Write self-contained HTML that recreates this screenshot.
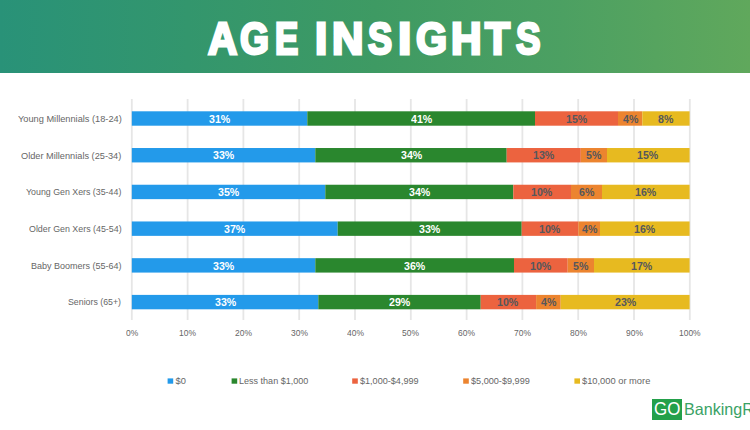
<!DOCTYPE html>
<html><head><meta charset="utf-8">
<style>
html,body{margin:0;padding:0;}
body{width:750px;height:430px;position:relative;overflow:hidden;background:#fff;font-family:"Liberation Sans",sans-serif;}
.hdr{position:absolute;left:0;top:0;width:750px;height:73px;background:linear-gradient(90deg,#299278 0%,#33966d 25%,#3e9a63 50%,#4ca062 75%,#60a85c 100%);}
.tl{position:absolute;top:-1px;line-height:80px;color:#fff;font-weight:bold;font-size:45.2px;-webkit-text-stroke:2.8px #fff;transform-origin:0 0;}
.gl{position:absolute;width:2px;background:#ebebeb;top:99px;height:221px;}
.seg{position:absolute;}
.t{position:absolute;white-space:nowrap;transform-origin:0 0;}
.g{color:#666666;}
.g2{color:#6a6a6a;}
.sq{position:absolute;width:5.6px;height:5.4px;}
</style></head><body>
<div class="hdr"></div>

<div class="tl" style="left:208.49px;transform:scaleX(0.8941)">A</div><div class="tl" style="left:240.40px;transform:scaleX(0.8235)">G</div><div class="tl" style="left:274.86px;transform:scaleX(0.7714)">E</div><div class="tl" style="left:315.24px;transform:scaleX(0.9778)">I</div><div class="tl" style="left:332.07px;transform:scaleX(0.9655)">N</div><div class="tl" style="left:368.40px;transform:scaleX(0.8000)">S</div><div class="tl" style="left:398.27px;transform:scaleX(1.0667)">I</div><div class="tl" style="left:416.00px;transform:scaleX(0.8824)">G</div><div class="tl" style="left:450.52px;transform:scaleX(0.9379)">H</div><div class="tl" style="left:485.01px;transform:scaleX(0.9067)">T</div><div class="tl" style="left:515.90px;transform:scaleX(0.8133)">S</div>
<svg style="position:absolute;left:0;top:0" width="750" height="430" viewBox="0 0 750 430"><rect x="130.90" y="99" width="1.8" height="221" fill="#e6e6e6"/><rect x="186.70" y="99" width="1.8" height="221" fill="#e6e6e6"/><rect x="242.50" y="99" width="1.8" height="221" fill="#e6e6e6"/><rect x="298.30" y="99" width="1.8" height="221" fill="#e6e6e6"/><rect x="354.10" y="99" width="1.8" height="221" fill="#e6e6e6"/><rect x="409.90" y="99" width="1.8" height="221" fill="#e6e6e6"/><rect x="465.70" y="99" width="1.8" height="221" fill="#e6e6e6"/><rect x="521.50" y="99" width="1.8" height="221" fill="#e6e6e6"/><rect x="577.30" y="99" width="1.8" height="221" fill="#e6e6e6"/><rect x="633.10" y="99" width="1.8" height="221" fill="#e6e6e6"/><rect x="688.90" y="99" width="1.8" height="221" fill="#e6e6e6"/><rect x="131.80" y="111.30" width="175.50" height="14.4" fill="#239aea"/><rect x="307.30" y="111.30" width="227.70" height="14.4" fill="#2a872e"/><rect x="535.00" y="111.30" width="83.00" height="14.4" fill="#ec633f"/><rect x="618.00" y="111.30" width="24.30" height="14.4" fill="#ec842f"/><rect x="642.30" y="111.30" width="47.30" height="14.4" fill="#e7ba20"/><rect x="131.80" y="148.02" width="183.50" height="14.4" fill="#239aea"/><rect x="315.30" y="148.02" width="191.40" height="14.4" fill="#2a872e"/><rect x="506.70" y="148.02" width="74.10" height="14.4" fill="#ec633f"/><rect x="580.80" y="148.02" width="26.20" height="14.4" fill="#ec842f"/><rect x="607.00" y="148.02" width="82.60" height="14.4" fill="#e7ba20"/><rect x="131.80" y="184.74" width="193.50" height="14.4" fill="#239aea"/><rect x="325.30" y="184.74" width="188.00" height="14.4" fill="#2a872e"/><rect x="513.30" y="184.74" width="57.70" height="14.4" fill="#ec633f"/><rect x="571.00" y="184.74" width="31.00" height="14.4" fill="#ec842f"/><rect x="602.00" y="184.74" width="87.60" height="14.4" fill="#e7ba20"/><rect x="131.80" y="221.46" width="205.90" height="14.4" fill="#239aea"/><rect x="337.70" y="221.46" width="184.00" height="14.4" fill="#2a872e"/><rect x="521.70" y="221.46" width="56.60" height="14.4" fill="#ec633f"/><rect x="578.30" y="221.46" width="21.70" height="14.4" fill="#ec842f"/><rect x="600.00" y="221.46" width="89.60" height="14.4" fill="#e7ba20"/><rect x="131.80" y="258.18" width="183.50" height="14.4" fill="#239aea"/><rect x="315.30" y="258.18" width="198.70" height="14.4" fill="#2a872e"/><rect x="514.00" y="258.18" width="53.70" height="14.4" fill="#ec633f"/><rect x="567.70" y="258.18" width="26.30" height="14.4" fill="#ec842f"/><rect x="594.00" y="258.18" width="95.60" height="14.4" fill="#e7ba20"/><rect x="131.80" y="294.90" width="186.50" height="14.4" fill="#239aea"/><rect x="318.30" y="294.90" width="162.40" height="14.4" fill="#2a872e"/><rect x="480.70" y="294.90" width="55.40" height="14.4" fill="#ec633f"/><rect x="536.10" y="294.90" width="24.60" height="14.4" fill="#ec842f"/><rect x="560.70" y="294.90" width="128.90" height="14.4" fill="#e7ba20"/><rect x="167.60" y="378.4" width="5.6" height="5.3" fill="#239aea"/><rect x="231.60" y="378.4" width="5.6" height="5.3" fill="#2a872e"/><rect x="352.20" y="378.4" width="5.6" height="5.3" fill="#ec633f"/><rect x="463.20" y="378.4" width="5.6" height="5.3" fill="#ec842f"/><rect x="574.40" y="378.4" width="5.6" height="5.3" fill="#e7ba20"/></svg>
<div class="t " style="left:209.10px;top:111.72px;transform:scaleX(0.9500);font-size:11.2px;font-weight:bold;line-height:15px;color:#ffffff">31%</div>
<div class="t " style="left:410.70px;top:111.72px;transform:scaleX(0.9500);font-size:11.2px;font-weight:bold;line-height:15px;color:#ffffff">41%</div>
<div class="t " style="left:565.57px;top:111.72px;transform:scaleX(0.9500);font-size:11.2px;font-weight:bold;line-height:15px;color:#55575c">15%</div>
<div class="t " style="left:622.55px;top:111.72px;transform:scaleX(0.9500);font-size:11.2px;font-weight:bold;line-height:15px;color:#55575c">4%</div>
<div class="t " style="left:658.35px;top:111.72px;transform:scaleX(0.9500);font-size:11.2px;font-weight:bold;line-height:15px;color:#55575c">8%</div>
<div class="t g" style="left:18.00px;top:112.88px;transform:scaleX(0.9923);font-size:9.3px;line-height:12px;">Young Millennials (18-24)</div>
<div class="t " style="left:213.10px;top:148.44px;transform:scaleX(0.9500);font-size:11.2px;font-weight:bold;line-height:15px;color:#ffffff">33%</div>
<div class="t " style="left:400.55px;top:148.44px;transform:scaleX(0.9500);font-size:11.2px;font-weight:bold;line-height:15px;color:#ffffff">34%</div>
<div class="t " style="left:532.82px;top:148.44px;transform:scaleX(0.9500);font-size:11.2px;font-weight:bold;line-height:15px;color:#55575c">13%</div>
<div class="t " style="left:586.30px;top:148.44px;transform:scaleX(0.9500);font-size:11.2px;font-weight:bold;line-height:15px;color:#55575c">5%</div>
<div class="t " style="left:637.37px;top:148.44px;transform:scaleX(0.9500);font-size:11.2px;font-weight:bold;line-height:15px;color:#55575c">15%</div>
<div class="t g" style="left:21.20px;top:149.60px;transform:scaleX(0.9901);font-size:9.3px;line-height:12px;">Older Millennials (25-34)</div>
<div class="t " style="left:218.10px;top:185.16px;transform:scaleX(0.9500);font-size:11.2px;font-weight:bold;line-height:15px;color:#ffffff">35%</div>
<div class="t " style="left:408.85px;top:185.16px;transform:scaleX(0.9500);font-size:11.2px;font-weight:bold;line-height:15px;color:#ffffff">34%</div>
<div class="t " style="left:531.22px;top:185.16px;transform:scaleX(0.9500);font-size:11.2px;font-weight:bold;line-height:15px;color:#55575c">10%</div>
<div class="t " style="left:578.90px;top:185.16px;transform:scaleX(0.9500);font-size:11.2px;font-weight:bold;line-height:15px;color:#55575c">6%</div>
<div class="t " style="left:634.87px;top:185.16px;transform:scaleX(0.9500);font-size:11.2px;font-weight:bold;line-height:15px;color:#55575c">16%</div>
<div class="t g" style="left:26.30px;top:186.32px;transform:scaleX(0.9490);font-size:9.3px;line-height:12px;">Young Gen Xers (35-44)</div>
<div class="t " style="left:224.30px;top:221.88px;transform:scaleX(0.9500);font-size:11.2px;font-weight:bold;line-height:15px;color:#ffffff">37%</div>
<div class="t " style="left:419.25px;top:221.88px;transform:scaleX(0.9500);font-size:11.2px;font-weight:bold;line-height:15px;color:#ffffff">33%</div>
<div class="t " style="left:539.07px;top:221.88px;transform:scaleX(0.9500);font-size:11.2px;font-weight:bold;line-height:15px;color:#55575c">10%</div>
<div class="t " style="left:581.55px;top:221.88px;transform:scaleX(0.9500);font-size:11.2px;font-weight:bold;line-height:15px;color:#55575c">4%</div>
<div class="t " style="left:633.87px;top:221.88px;transform:scaleX(0.9500);font-size:11.2px;font-weight:bold;line-height:15px;color:#55575c">16%</div>
<div class="t g" style="left:28.70px;top:223.04px;transform:scaleX(0.9536);font-size:9.3px;line-height:12px;">Older Gen Xers (45-54)</div>
<div class="t " style="left:213.10px;top:258.60px;transform:scaleX(0.9500);font-size:11.2px;font-weight:bold;line-height:15px;color:#ffffff">33%</div>
<div class="t " style="left:404.20px;top:258.60px;transform:scaleX(0.9500);font-size:11.2px;font-weight:bold;line-height:15px;color:#ffffff">36%</div>
<div class="t " style="left:529.92px;top:258.60px;transform:scaleX(0.9500);font-size:11.2px;font-weight:bold;line-height:15px;color:#55575c">10%</div>
<div class="t " style="left:573.25px;top:258.60px;transform:scaleX(0.9500);font-size:11.2px;font-weight:bold;line-height:15px;color:#55575c">5%</div>
<div class="t " style="left:630.87px;top:258.60px;transform:scaleX(0.9500);font-size:11.2px;font-weight:bold;line-height:15px;color:#55575c">17%</div>
<div class="t g" style="left:31.13px;top:259.76px;transform:scaleX(0.9685);font-size:9.3px;line-height:12px;">Baby Boomers (55-64)</div>
<div class="t " style="left:214.60px;top:295.32px;transform:scaleX(0.9500);font-size:11.2px;font-weight:bold;line-height:15px;color:#ffffff">33%</div>
<div class="t " style="left:389.05px;top:295.32px;transform:scaleX(0.9500);font-size:11.2px;font-weight:bold;line-height:15px;color:#ffffff">29%</div>
<div class="t " style="left:497.47px;top:295.32px;transform:scaleX(0.9500);font-size:11.2px;font-weight:bold;line-height:15px;color:#55575c">10%</div>
<div class="t " style="left:540.80px;top:295.32px;transform:scaleX(0.9500);font-size:11.2px;font-weight:bold;line-height:15px;color:#55575c">4%</div>
<div class="t " style="left:614.70px;top:295.32px;transform:scaleX(0.9500);font-size:11.2px;font-weight:bold;line-height:15px;color:#55575c">23%</div>
<div class="t g" style="left:68.25px;top:296.48px;transform:scaleX(0.9455);font-size:9.3px;line-height:12px;">Seniors (65+)</div>
<div class="t g" style="left:125.82px;top:327.11px;transform:scaleX(0.9200);font-size:9.2px;line-height:12px;">0%</div>
<div class="t g" style="left:178.86px;top:327.11px;transform:scaleX(0.9200);font-size:9.2px;line-height:12px;">10%</div>
<div class="t g" style="left:235.12px;top:327.11px;transform:scaleX(0.9200);font-size:9.2px;line-height:12px;">20%</div>
<div class="t g" style="left:290.92px;top:327.11px;transform:scaleX(0.9200);font-size:9.2px;line-height:12px;">30%</div>
<div class="t g" style="left:346.72px;top:327.11px;transform:scaleX(0.9200);font-size:9.2px;line-height:12px;">40%</div>
<div class="t g" style="left:402.06px;top:327.11px;transform:scaleX(0.9200);font-size:9.2px;line-height:12px;">50%</div>
<div class="t g" style="left:458.32px;top:327.11px;transform:scaleX(0.9200);font-size:9.2px;line-height:12px;">60%</div>
<div class="t g" style="left:513.66px;top:327.11px;transform:scaleX(0.9200);font-size:9.2px;line-height:12px;">70%</div>
<div class="t g" style="left:569.92px;top:327.11px;transform:scaleX(0.9200);font-size:9.2px;line-height:12px;">80%</div>
<div class="t g" style="left:625.72px;top:327.11px;transform:scaleX(0.9200);font-size:9.2px;line-height:12px;">90%</div>
<div class="t g" style="left:678.76px;top:327.11px;transform:scaleX(0.9200);font-size:9.2px;line-height:12px;">100%</div>
<div class="t g" style="left:175.60px;top:374.78px;transform:scaleX(1.0000);font-size:9.3px;line-height:12px;">$0</div>
<div class="t g" style="left:239.03px;top:374.78px;transform:scaleX(0.9714);font-size:9.3px;line-height:12px;">Less than $1,000</div>
<div class="t g" style="left:360.20px;top:374.78px;transform:scaleX(0.9767);font-size:9.3px;line-height:12px;">$1,000-$4,999</div>
<div class="t g" style="left:471.20px;top:374.78px;transform:scaleX(0.9800);font-size:9.3px;line-height:12px;">$5,000-$9,999</div>
<div class="t g" style="left:582.40px;top:374.78px;transform:scaleX(1.0015);font-size:9.3px;line-height:12px;">$10,000 or more</div>
<div style="position:absolute;left:652.4px;top:398.5px;width:29.6px;height:21.1px;background:#23a04a"></div>
<div class="t" style="left:654.4px;top:399px;line-height:21px;color:#fff;font-size:17.5px;transform:scaleX(0.968)">GO</div>
<div class="t" style="left:684px;top:399px;line-height:21px;color:#3aa265;font-size:16.5px;transform:scaleX(0.976)">BankingRates</div>

</body></html>
